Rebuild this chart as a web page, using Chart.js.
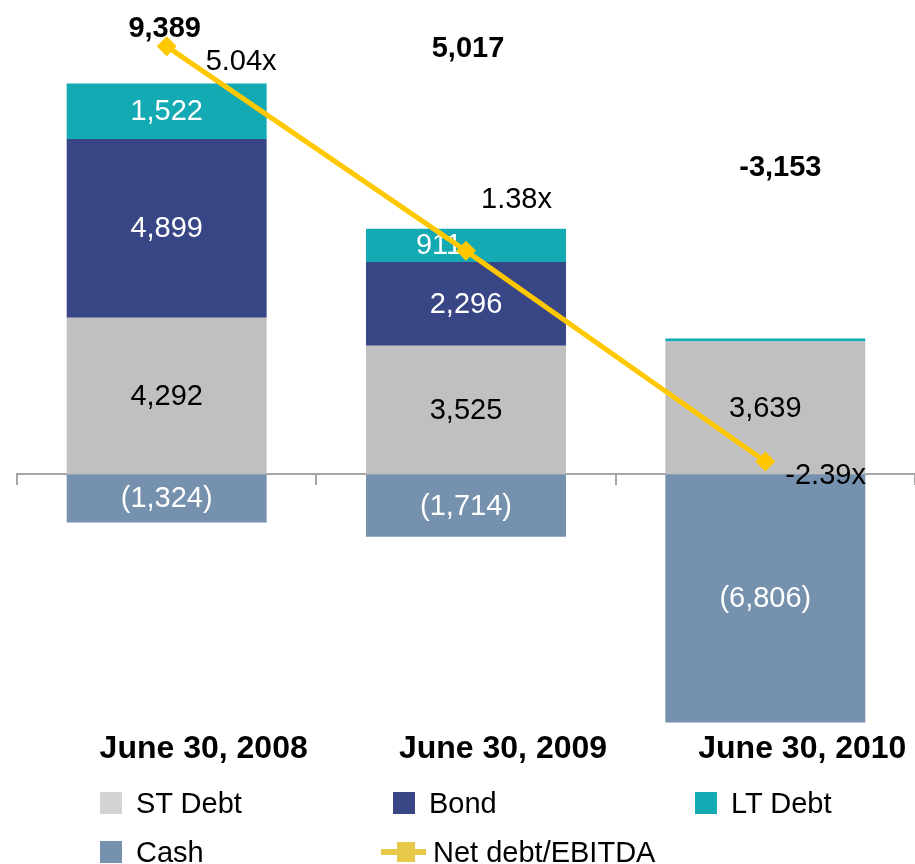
<!DOCTYPE html>
<html><head><meta charset="utf-8">
<script src="https://cdn.jsdelivr.net/npm/chart.js@4"></script>
<style>
html,body{margin:0;padding:0;background:#fff;}
#wrap{position:relative;width:915px;height:864px;overflow:hidden;}
#c{position:absolute;left:0;top:0;}
#legend{position:absolute;left:0;top:0;width:915px;height:864px;pointer-events:none;font-family:'Liberation Sans',Arial,Helvetica,sans-serif;font-size:29px;color:#000;}
.li{position:absolute;display:flex;align-items:center;height:30px;white-space:nowrap;}
.sw{width:22px;height:22px;margin-right:14px;flex:none;}
.ln{position:relative;width:45px;height:22px;margin-right:7px;flex:none;}
.ln .bar{position:absolute;left:0;right:0;top:8px;height:6px;}
.ln .pt{position:absolute;left:16px;top:1px;width:18px;height:20px;}
</style></head><body>
<div id="wrap"><canvas id="c" width="915" height="864"></canvas><div id="legend"></div></div>
<script>
// ---- data ----
const categories = ['June 30, 2008', 'June 30, 2009', 'June 30, 2010'];
const stDebt = [4292, 3525, 3639];
const bond = [4899, 2296, 0];
const ltDebt = [1522, 911, 14];
const cash = [-1324, -1714, -6806];
const netDebtEbitda = [5.04, 1.38, -2.39];
const netDebtTotals = [9389, 5017, -3153];

// ---- presentation ----
const FONT = "'Liberation Sans', Arial, Helvetica, sans-serif";
const totalsAnchor = [12200, 11650, 8400];   // label anchors in y-axis units
const totalsDx = [-2, 2, 15];
const ratioOffsets = [[39, 16], [15, -51], [20, 15]];

const fmt = v => v < 0 ? '(' + Math.abs(v).toLocaleString('en-US') + ')' : v.toLocaleString('en-US');

const labelPlugin = {
  id: 'valueLabels',
  afterDatasetDraw(chart, args) {
    const ds = chart.data.datasets[args.index];
    if (ds.type === 'line') return;
    const ctx = chart.ctx;
    ctx.save();
    ctx.font = '29px ' + FONT;
    ctx.textAlign = 'center';
    ctx.textBaseline = 'middle';
    ctx.fillStyle = ds.labelColor;
    args.meta.data.forEach((el, i) => {
      const v = ds.data[i];
      if (!v || Math.abs(v) < 200) return;
      const dx = (ds.labelDx && ds.labelDx[i]) || 0;
      ctx.fillText(fmt(v), el.x + dx, (el.y + el.base) / 2 + 1);
    });
    ctx.restore();
  },
  afterDatasetsDraw(chart) {
    const ctx = chart.ctx;
    ctx.save();
    chart.data.datasets.forEach((ds, di) => {
      if (ds.type !== 'line') return;
      const meta = chart.getDatasetMeta(di);
      ctx.font = '29px ' + FONT;
      ctx.textAlign = 'left';
      ctx.textBaseline = 'middle';
      ctx.fillStyle = '#000';
      meta.data.forEach((el, i) => {
        const o = ratioOffsets[i];
        ctx.fillText(ds.data[i].toFixed(2) + 'x', el.x + o[0], el.y + o[1]);
      });
    });
    const xs = chart.scales.x, ys = chart.scales.y;
    ctx.font = 'bold 29px ' + FONT;
    ctx.textAlign = 'center';
    ctx.textBaseline = 'middle';
    ctx.fillStyle = '#000';
    netDebtTotals.forEach((t, i) => {
      const s = (t < 0 ? '-' : '') + Math.abs(t).toLocaleString('en-US');
      ctx.fillText(s, xs.getPixelForValue(i) + totalsDx[i], ys.getPixelForValue(totalsAnchor[i]));
    });
    ctx.restore();
  }
};

const barCommon = { type: 'bar', stack: 's', yAxisID: 'y', xAxisID: 'x', order: 1,
  barPercentage: 0.668, categoryPercentage: 1, borderWidth: 0 };

const chart = new Chart(document.getElementById('c'), {
  data: {
    labels: categories,
    datasets: [
      Object.assign({}, barCommon, { label: 'ST Debt', data: stDebt, backgroundColor: '#c0c0c0', labelColor: '#000', legendColor: '#d3d3d3' }),
      Object.assign({}, barCommon, { label: 'Bond', data: bond, backgroundColor: '#384685', labelColor: '#fff', legendColor: '#384685' }),
      Object.assign({}, barCommon, { label: 'LT Debt', data: ltDebt, backgroundColor: '#14aab4', labelColor: '#fff', legendColor: '#14aab4', minBarLength: 3, labelDx: [0, -27, 0] }),
      Object.assign({}, barCommon, { label: 'Cash', data: cash, backgroundColor: '#7591ae', labelColor: '#fff', legendColor: '#7591ae' }),
      { type: 'line', label: 'Net debt/EBITDA', data: netDebtEbitda, yAxisID: 'y2', xAxisID: 'x', order: 0,
        borderColor: '#ffc800', borderWidth: 5, backgroundColor: '#ffc800', tension: 0,
        pointStyle: 'rectRot', pointRadius: 10, pointBorderWidth: 0, pointBackgroundColor: '#ffc800',
        legendColor: '#e8c84a', clip: false }
    ]
  },
  options: {
    responsive: false,
    animation: false,
    events: [],
    layout: { autoPadding: false, padding: { left: 17, right: 0, top: 0, bottom: 96 } },
    plugins: { legend: { display: false }, tooltip: { enabled: false } },
    scales: {
      x: {
        type: 'category', position: 'bottom', offset: true,
        grid: { display: false, drawTicks: false },
        border: { display: false },
        ticks: { font: { family: FONT, size: 32, weight: 'bold' }, color: '#000', padding: 0,
                 labelOffset: 37, maxRotation: 0, autoSkip: false }
      },
      xZero: {
        type: 'category', position: { y: 0 }, offset: true,
        grid: { display: true, offset: true, drawOnChartArea: false, drawTicks: true, tickLength: 10,
                color: '#a6a6a6', lineWidth: 2 },
        border: { display: true, color: '#a6a6a6', width: 2 },
        ticks: { display: false }
      },
      y: { type: 'linear', display: false, stacked: true, min: -7000, max: 13000 },
      y2: { type: 'linear', display: false, min: -7.19, max: 5.87 }
    }
  },
  plugins: [labelPlugin]
});

// ---- HTML legend built from the datasets ----
const legendSlots = [[100, 803], [393, 803], [695, 803], [100, 852], [381, 852]];
const lg = document.getElementById('legend');
chart.data.datasets.forEach((ds, i) => {
  const [lx, ly] = legendSlots[i];
  const item = document.createElement('div');
  item.className = 'li';
  item.style.left = lx + 'px';
  item.style.top = (ly - 15) + 'px';
  let marker;
  if (ds.type === 'line') {
    marker = document.createElement('div');
    marker.className = 'ln';
    marker.innerHTML = '<div class="bar" style="background:' + ds.legendColor + '"></div><div class="pt" style="background:' + ds.legendColor + '"></div>';
  } else {
    marker = document.createElement('div');
    marker.className = 'sw';
    marker.style.background = ds.legendColor;
  }
  const txt = document.createElement('span');
  txt.textContent = ds.label;
  item.appendChild(marker);
  item.appendChild(txt);
  lg.appendChild(item);
});
</script>
</body></html>
